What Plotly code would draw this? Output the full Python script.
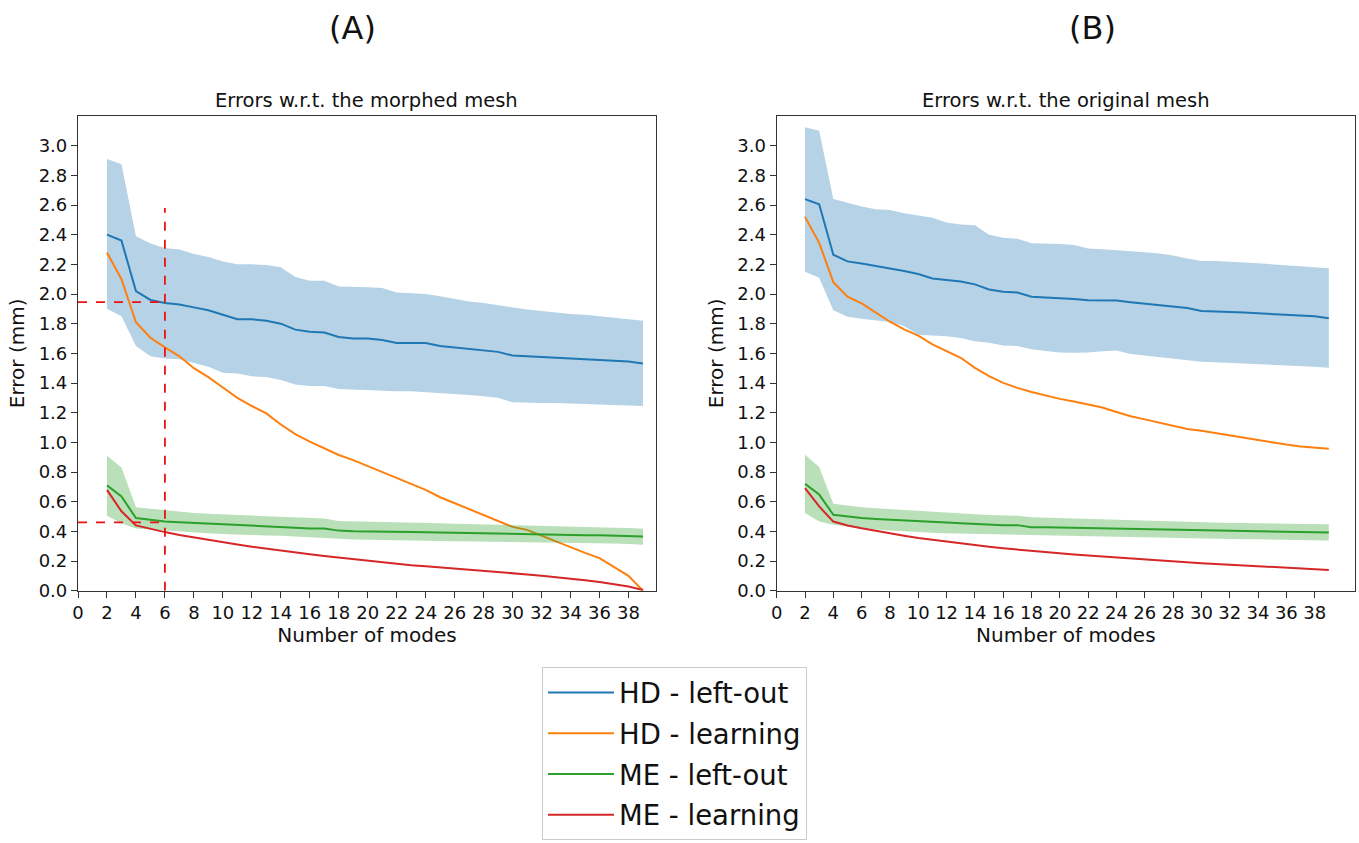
import plotly.graph_objects as go

# ---------------- data ----------------
modes = list(range(2, 40))

# (A) Errors w.r.t. the morphed mesh
A_hd_leftout = [2.40, 2.36, 2.02, 1.96, 1.94, 1.93, 1.91, 1.89, 1.86, 1.83, 1.83, 1.82, 1.80, 1.76, 1.745,
                1.74, 1.71, 1.70, 1.70, 1.69, 1.67, 1.67, 1.67, 1.65, 1.64, 1.63, 1.62, 1.61, 1.585, 1.58,
                1.575, 1.575, 1.57, 1.565, 1.56, 1.555, 1.545, 1.532]
A_hd_leftout_hi = [2.91, 2.875, 2.39, 2.34, 2.31, 2.30, 2.27, 2.25, 2.22, 2.20, 2.20, 2.195, 2.18, 2.115, 2.09,
                   2.09, 2.05, 2.05, 2.045, 2.04, 2.01, 2.005, 2.0, 1.985, 1.965, 1.95, 1.94, 1.925, 1.905,
                   1.895, 1.885, 1.875, 1.865, 1.86, 1.85, 1.845, 1.835, 1.82]
A_hd_leftout_lo = [1.90, 1.85, 1.65, 1.58, 1.565, 1.56, 1.535, 1.51, 1.47, 1.465, 1.445, 1.44, 1.42, 1.39, 1.38,
                   1.38, 1.36, 1.355, 1.35, 1.35, 1.345, 1.345, 1.34, 1.335, 1.33, 1.32, 1.31, 1.30, 1.27,
                   1.265, 1.265, 1.265, 1.262, 1.26, 1.258, 1.255, 1.25, 1.245]
A_hd_learning = [2.28, 2.10, 1.81, 1.705, 1.64, 1.58, 1.50, 1.44, 1.37, 1.30, 1.245, 1.195, 1.12, 1.055, 1.005,
                 0.96, 0.915, 0.88, 0.84, 0.80, 0.76, 0.725, 0.68, 0.63, 0.59, 0.55, 0.51, 0.47, 0.43, 0.41,
                 0.37, 0.33, 0.29, 0.255, 0.22, 0.16, 0.10, 0.0]
A_me_leftout = [0.71, 0.635, 0.49, 0.478, 0.466, 0.462, 0.457, 0.452, 0.446, 0.44, 0.44, 0.435, 0.43, 0.425,
                0.42, 0.42, 0.405, 0.40, 0.40, 0.40, 0.398, 0.396, 0.394, 0.392, 0.39, 0.388, 0.386, 0.384,
                0.38, 0.378, 0.377, 0.376, 0.375, 0.374, 0.373, 0.372, 0.37, 0.365]
A_me_leftout_hi = [0.91, 0.83, 0.563, 0.552, 0.541, 0.532, 0.523, 0.518, 0.514, 0.51, 0.505, 0.50, 0.496, 0.492,
                   0.489, 0.487, 0.47, 0.467, 0.464, 0.462, 0.46, 0.458, 0.456, 0.454, 0.452, 0.45, 0.448,
                   0.446, 0.44, 0.438, 0.436, 0.434, 0.432, 0.43, 0.428, 0.425, 0.422, 0.418]
A_me_leftout_lo = [0.505, 0.455, 0.42, 0.413, 0.405, 0.398, 0.392, 0.387, 0.383, 0.378, 0.374, 0.372, 0.37,
                   0.365, 0.36, 0.357, 0.347, 0.345, 0.343, 0.34, 0.338, 0.337, 0.336, 0.335, 0.334, 0.333,
                   0.332, 0.331, 0.328, 0.327, 0.326, 0.325, 0.324, 0.322, 0.32, 0.318, 0.315, 0.31]
A_me_learning = [0.68, 0.535, 0.44, 0.415, 0.395, 0.375, 0.358, 0.342, 0.325, 0.311, 0.297, 0.283, 0.27, 0.258,
                 0.246, 0.234, 0.223, 0.213, 0.203, 0.191, 0.18, 0.172, 0.164, 0.157, 0.15, 0.142, 0.134,
                 0.126, 0.118, 0.11, 0.101, 0.092, 0.082, 0.07, 0.058, 0.044, 0.028, 0.005]

# (B) Errors w.r.t. the original mesh
B_hd_leftout = [2.64, 2.605, 2.265, 2.22, 2.205, 2.19, 2.17, 2.155, 2.135, 2.105, 2.095, 2.085, 2.065, 2.03,
                2.015, 2.01, 1.982, 1.978, 1.97, 1.966, 1.958, 1.957, 1.957, 1.945, 1.935, 1.926, 1.918,
                1.905, 1.885, 1.883, 1.88, 1.875, 1.87, 1.865, 1.862, 1.86, 1.85, 1.836]
B_hd_leftout_hi = [3.125, 3.10, 2.64, 2.613, 2.59, 2.572, 2.566, 2.545, 2.527, 2.514, 2.482, 2.469, 2.464, 2.40,
                   2.38, 2.372, 2.342, 2.342, 2.337, 2.331, 2.307, 2.302, 2.297, 2.29, 2.282, 2.273, 2.26,
                   2.24, 2.223, 2.222, 2.22, 2.213, 2.207, 2.20, 2.193, 2.187, 2.18, 2.174]
B_hd_leftout_lo = [2.15, 2.11, 1.89, 1.847, 1.834, 1.822, 1.811, 1.785, 1.726, 1.72, 1.716, 1.703, 1.682, 1.672,
                   1.653, 1.65, 1.628, 1.615, 1.605, 1.604, 1.606, 1.614, 1.62, 1.595, 1.585, 1.577, 1.568,
                   1.555, 1.543, 1.54, 1.536, 1.533, 1.528, 1.525, 1.52, 1.515, 1.51, 1.503]
B_hd_learning = [2.52, 2.345, 2.08, 1.982, 1.937, 1.874, 1.813, 1.761, 1.72, 1.66, 1.613, 1.57, 1.502, 1.446,
                 1.401, 1.367, 1.34, 1.315, 1.293, 1.275, 1.255, 1.235, 1.205, 1.176, 1.155, 1.132, 1.11,
                 1.09, 1.079, 1.063, 1.045, 1.03, 1.015, 1.0, 0.985, 0.972, 0.962, 0.957]
B_me_leftout = [0.72, 0.648, 0.512, 0.50, 0.49, 0.484, 0.478, 0.472, 0.466, 0.462, 0.459, 0.455, 0.45, 0.445,
                0.442, 0.442, 0.428, 0.427, 0.425, 0.423, 0.421, 0.419, 0.417, 0.415, 0.413, 0.411, 0.409,
                0.407, 0.405, 0.404, 0.403, 0.402, 0.401, 0.40, 0.398, 0.396, 0.394, 0.392]
B_me_leftout_hi = [0.917, 0.834, 0.586, 0.572, 0.563, 0.556, 0.55, 0.543, 0.536, 0.53, 0.523, 0.52, 0.516, 0.511,
                   0.507, 0.505, 0.495, 0.492, 0.489, 0.486, 0.482, 0.479, 0.476, 0.473, 0.47, 0.467, 0.464,
                   0.462, 0.46, 0.458, 0.457, 0.456, 0.455, 0.453, 0.452, 0.451, 0.45, 0.448]
B_me_leftout_lo = [0.523, 0.466, 0.444, 0.432, 0.421, 0.413, 0.405, 0.399, 0.394, 0.39, 0.387, 0.385, 0.383,
                   0.38, 0.378, 0.376, 0.374, 0.372, 0.37, 0.367, 0.365, 0.363, 0.362, 0.36, 0.358, 0.356,
                   0.354, 0.352, 0.351, 0.35, 0.349, 0.347, 0.346, 0.344, 0.342, 0.34, 0.339, 0.338]
B_me_learning = [0.692, 0.568, 0.466, 0.44, 0.421, 0.403, 0.387, 0.371, 0.356, 0.343, 0.331, 0.319, 0.307,
                 0.296, 0.286, 0.277, 0.268, 0.259, 0.251, 0.244, 0.237, 0.23, 0.223, 0.216, 0.21, 0.204,
                 0.197, 0.191, 0.185, 0.18, 0.175, 0.169, 0.164, 0.159, 0.154, 0.149, 0.144, 0.14]

series_names = ["HD - left-out", "HD - learning", "ME - left-out", "ME - learning"]
x_tick_vals = [0, 2, 4, 6, 8, 10, 12, 14, 16, 18, 20, 22, 24, 26, 28, 30, 32, 34, 36, 38]
y_tick_vals = [0.0, 0.2, 0.4, 0.6, 0.8, 1.0, 1.2, 1.4, 1.6, 1.8, 2.0, 2.2, 2.4, 2.6, 2.8, 3.0]

# reference markers on panel (A)
ref_mode = 6
ref_hd_value = 1.945
ref_me_value = 0.46
ref_vline_top = 2.58

# ---------------- style ----------------
FONT = "DejaVu Sans"
C_BLUE, C_ORANGE, C_GREEN, C_RED = "#1f77b4", "#ff7f0e", "#2ca02c", "#d62728"
F_BLUE, F_GREEN = "rgba(31,119,180,0.33)", "rgba(44,160,44,0.33)"

fig = go.Figure()

panels = [
    ("x", "y", A_hd_leftout, A_hd_leftout_lo, A_hd_leftout_hi, A_hd_learning,
     A_me_leftout, A_me_leftout_lo, A_me_leftout_hi, A_me_learning, True),
    ("x2", "y2", B_hd_leftout, B_hd_leftout_lo, B_hd_leftout_hi, B_hd_learning,
     B_me_leftout, B_me_leftout_lo, B_me_leftout_hi, B_me_learning, False),
]

for (xa, ya, hd, hd_lo, hd_hi, hd_l, me, me_lo, me_hi, me_l, legend) in panels:
    # HD band
    fig.add_trace(go.Scatter(x=modes, y=hd_hi, xaxis=xa, yaxis=ya, mode="lines",
                             line=dict(width=0, color=F_BLUE), showlegend=False, hoverinfo="skip"))
    fig.add_trace(go.Scatter(x=modes, y=hd_lo, xaxis=xa, yaxis=ya, mode="lines", fill="tonexty",
                             fillcolor=F_BLUE, line=dict(width=0, color=F_BLUE), showlegend=False,
                             hoverinfo="skip"))
    fig.add_trace(go.Scatter(x=modes, y=hd, xaxis=xa, yaxis=ya, mode="lines", name=series_names[0],
                             legendgroup="g0", showlegend=legend, line=dict(color=C_BLUE, width=2)))
    fig.add_trace(go.Scatter(x=modes, y=hd_l, xaxis=xa, yaxis=ya, mode="lines", name=series_names[1],
                             legendgroup="g1", showlegend=legend, line=dict(color=C_ORANGE, width=2)))
    # ME band
    fig.add_trace(go.Scatter(x=modes, y=me_hi, xaxis=xa, yaxis=ya, mode="lines",
                             line=dict(width=0, color=F_GREEN), showlegend=False, hoverinfo="skip"))
    fig.add_trace(go.Scatter(x=modes, y=me_lo, xaxis=xa, yaxis=ya, mode="lines", fill="tonexty",
                             fillcolor=F_GREEN, line=dict(width=0, color=F_GREEN), showlegend=False,
                             hoverinfo="skip"))
    fig.add_trace(go.Scatter(x=modes, y=me, xaxis=xa, yaxis=ya, mode="lines", name=series_names[2],
                             legendgroup="g2", showlegend=legend, line=dict(color=C_GREEN, width=2)))
    fig.add_trace(go.Scatter(x=modes, y=me_l, xaxis=xa, yaxis=ya, mode="lines", name=series_names[3],
                             legendgroup="g3", showlegend=legend, line=dict(color=C_RED, width=2)))

# dashed reference lines
dash_style = dict(color="#ee1111", width=1.8, dash="dash")
fig.add_shape(type="line", xref="x", yref="y", x0=ref_mode, x1=ref_mode, y0=0, y1=ref_vline_top,
              line=dash_style)
fig.add_shape(type="line", xref="x", yref="y", x0=0, x1=ref_mode, y0=ref_hd_value, y1=ref_hd_value,
              line=dash_style)
fig.add_shape(type="line", xref="x", yref="y", x0=0, x1=ref_mode, y0=ref_me_value, y1=ref_me_value,
              line=dash_style)

W, H = 1359, 843

def axis_common():
    return dict(showline=True, linecolor="#333", linewidth=1.2, mirror=True, ticks="outside",
                ticklen=6, tickwidth=1.2, tickcolor="#333", showgrid=False, zeroline=False,
                tickfont=dict(family=FONT, size=18, color="#111"))

y_dom = [1 - 590.7 / H, 1 - 116 / H]

fig.update_layout(
    width=W, height=H,
    paper_bgcolor="white", plot_bgcolor="white",
    margin=dict(l=0, r=0, t=0, b=0, autoexpand=False),
    font=dict(family=FONT, color="#111"),
    xaxis=dict(domain=[78 / W, 656 / W], range=[0, 39.9], tickvals=x_tick_vals,
               title=dict(text="Number of modes", font=dict(size=20), standoff=4), **axis_common()),
    yaxis=dict(domain=y_dom, range=[0, 3.2], tickvals=y_tick_vals, tickformat=".1f",
               title=dict(text="Error (mm)", font=dict(size=20), standoff=8), **axis_common()),
    xaxis2=dict(domain=[776.7 / W, 1355 / W], range=[0, 40.85], tickvals=x_tick_vals, anchor="y2",
                title=dict(text="Number of modes", font=dict(size=20), standoff=4), **axis_common()),
    yaxis2=dict(domain=y_dom, range=[0, 3.2], tickvals=y_tick_vals, tickformat=".1f", anchor="x2",
                title=dict(text="Error (mm)", font=dict(size=20), standoff=8), **axis_common()),
    legend=dict(x=674.5 / W, xanchor="center", y=1 - 667 / H, yanchor="top",
                font=dict(family=FONT, size=27.5, color="#111"), bordercolor="#cccccc", borderwidth=1,
                bgcolor="white", tracegroupgap=2, traceorder="grouped", itemwidth=66),
    showlegend=True,
)

annotations = [
    dict(text="(A)", x=352.5 / W, y=1 - 28 / H, font=dict(size=32)),
    dict(text="(B)", x=1092 / W, y=1 - 28 / H, font=dict(size=32)),
    dict(text="Errors w.r.t. the morphed mesh", x=367 / W, y=1 - 101 / H, font=dict(size=19.5)),
    dict(text="Errors w.r.t. the original mesh", x=1066 / W, y=1 - 101 / H, font=dict(size=19.5)),
]
for a in annotations:
    fig.add_annotation(xref="paper", yref="paper", showarrow=False, xanchor="center", yanchor="middle",
                       x=a["x"], y=a["y"], text=a["text"],
                       font=dict(family=FONT, color="#111", size=a["font"]["size"]))

fig.write_html("out.html")
